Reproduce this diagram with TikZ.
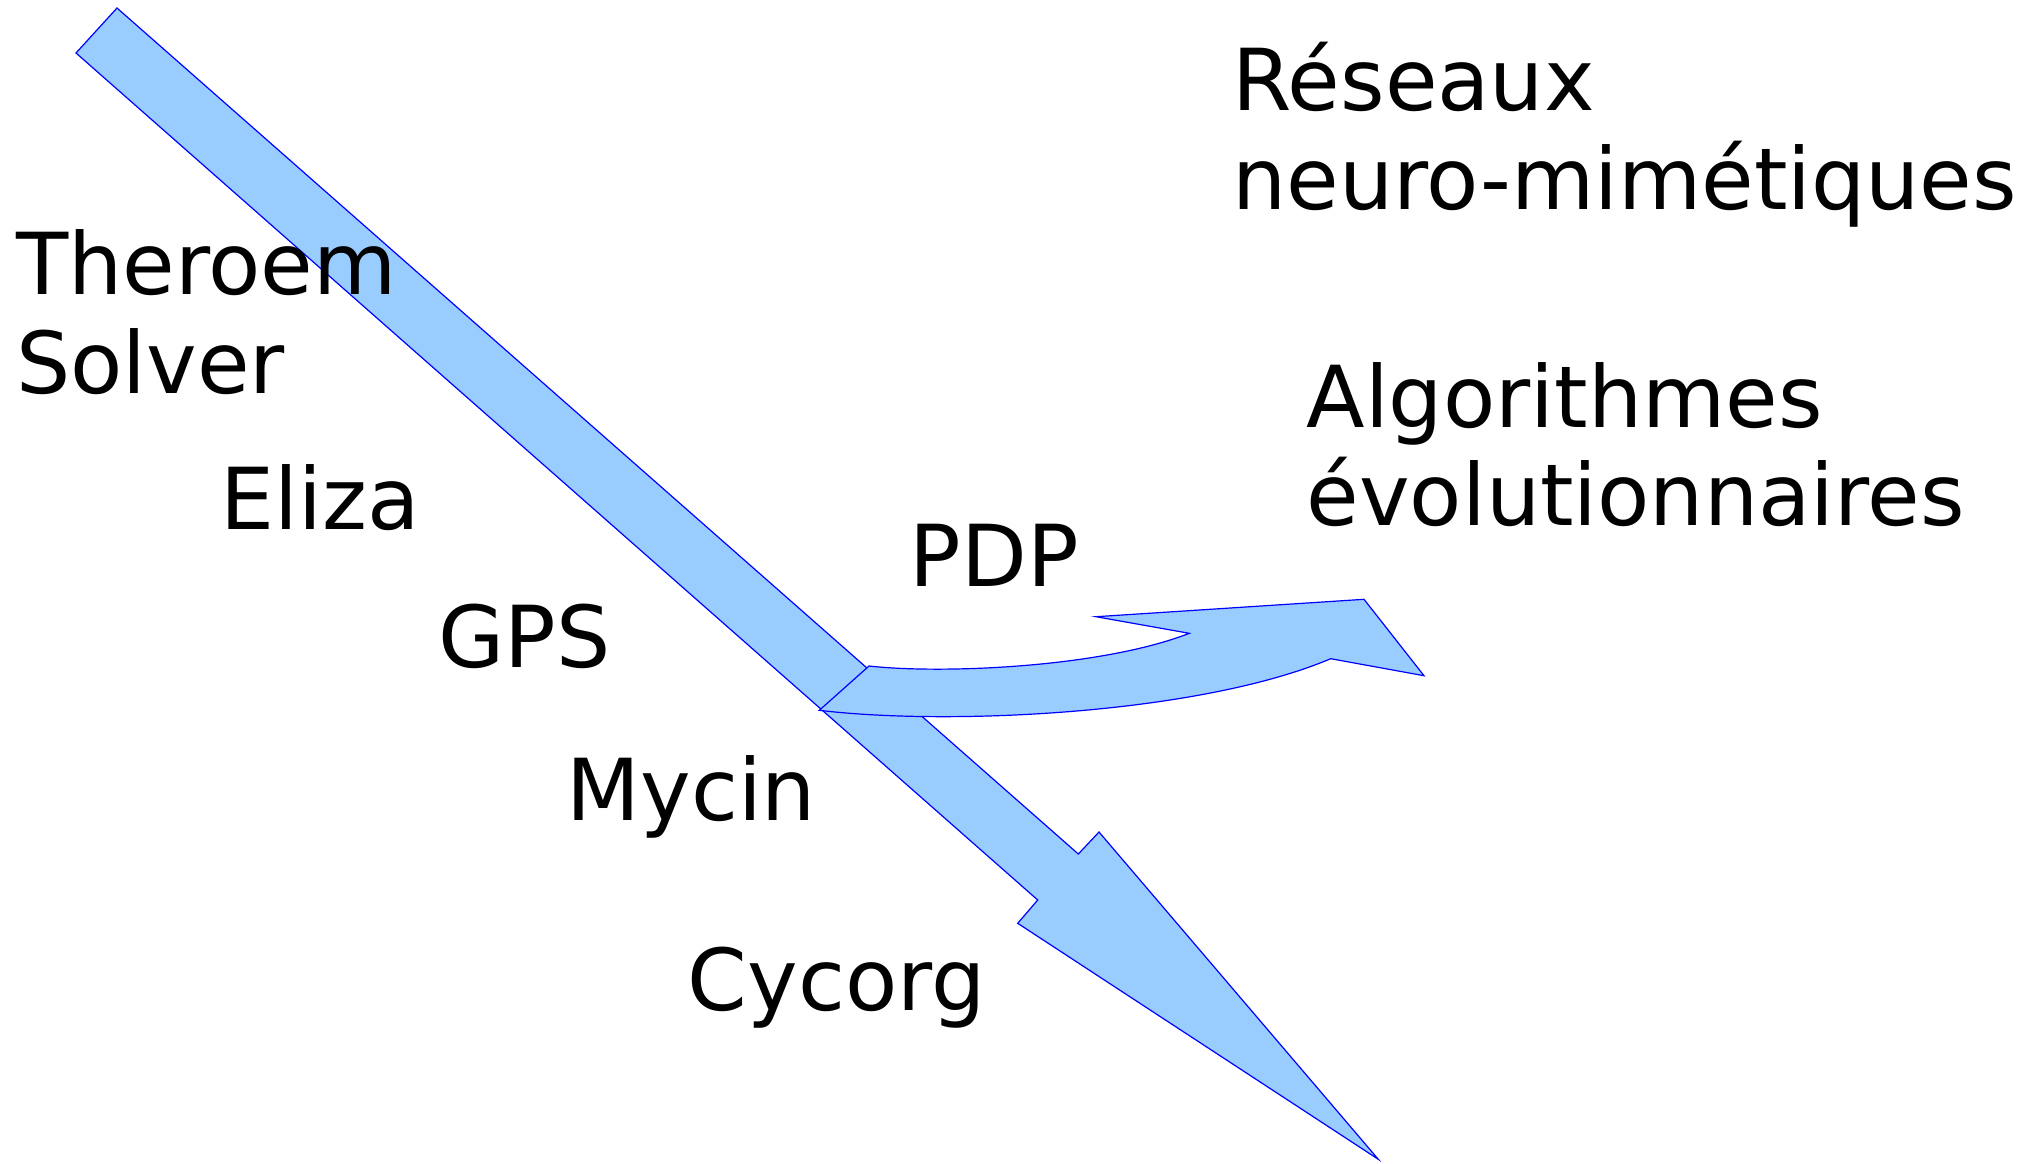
\documentclass[tikz,border=0pt]{standalone}
\usepackage{fontspec}
\setmainfont{DejaVu Sans}
\definecolor{arrowfill}{HTML}{99CCFF}
\definecolor{arrowline}{HTML}{0000FF}
\begin{document}
\begin{tikzpicture}[x=1pt,y=-1pt,
  arrowshape/.style={fill=arrowfill,draw=arrowline,line width=1.2pt,line join=miter},
  lbl/.style={anchor=base west,inner sep=0pt,font=\fontsize{85.5}{100}\selectfont}]
\useasboundingbox (0,0) rectangle (2031,1163);
% main straight arrow
\coordinate (s1) at (117,8);
\coordinate (s2) at (1078.3,854);
\coordinate (s3) at (1099,832);
\coordinate (s4) at (1378.3,1159.3);
\coordinate (s5) at (1017.7,923.3);
\coordinate (s6) at (1037.7,900);
\coordinate (s7) at (76,53);
\draw[arrowshape] (s1) -- (s2) -- (s3) -- (s4) -- (s5) -- (s6) -- (s7) -- cycle;
% curved branch arrow
\coordinate (cA) at (869,666);
\coordinate (cB) at (1189.3,633.3);
\coordinate (cC) at (1096,616.7);
\coordinate (cD) at (1364,599.3);
\coordinate (cE) at (1424,675.7);
\coordinate (cF) at (1330.7,658.7);
\coordinate (cG) at (819.3,710.3);
\draw[arrowshape] (cA) .. controls (940,674) and (1100,668) .. (cB) -- (cC) -- (cD) -- (cE) -- (cF)
  .. controls (1200,714) and (950,726) .. (cG) -- cycle;
% labels
\node[lbl] (th1) at (16,294) {Theroem};
\node[lbl] (th2) at (16,393) {Solver};
\node[lbl] (eliza) at (220.5,529) {Eliza};
\node[lbl] (gps) at (438.5,667) {GPS};
\node[lbl] (mycin) at (566.5,820) {Mycin};
\node[lbl] (cycorg) at (687.5,1010) {Cycorg};
\node[lbl] (pdp) at (909.5,586) {PDP};
\node[lbl] (res1) at (1232,110) {Réseaux};
\node[lbl] (res2) at (1232,209) {neuro-mimétiques};
\node[lbl] (alg1) at (1306.5,427) {Algorithmes};
\node[lbl] (alg2) at (1306.5,525) {évolutionnaires};
\end{tikzpicture}
\end{document}
